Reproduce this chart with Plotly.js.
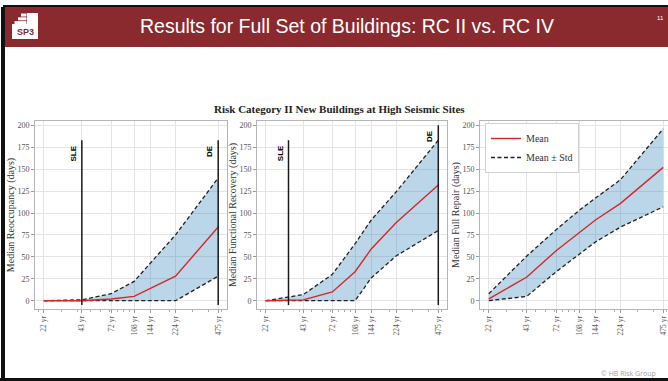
<!DOCTYPE html>
<html>
<head>
<meta charset="utf-8">
<script src="https://cdn.plot.ly/plotly-3.0.1.min.js"></script>
<style>
  html, body { margin: 0; padding: 0; background: #ffffff; }
  #chart { width: 668px; height: 381px; }
</style>
</head>
<body>
<div id="chart"></div>
<script>
// ---------------- data ----------------
const returnPeriods = [22, 43, 72, 108, 144, 224, 475];
const tickLabels = ["22 yr", "43 yr", "72 yr", "108 yr", "144 yr", "224 yr", "475 yr"];

const reoccMean  = [0, 0, 2, 5, 14, 28, 84];
const reoccUpper = [0, 1, 8, 22, 43, 75, 140];
const reoccLower = [0, 0, 0, 0, 0, 0, 28];

const funcMean  = [0, 1, 10, 33, 59, 89, 132];
const funcUpper = [0, 7, 30, 65, 92, 124, 183];
const funcLower = [0, 0, 0, 0, 26, 51, 80];

const repairMean  = [2, 27, 57, 78, 92, 111, 152];
const repairUpper = [8, 51, 81, 103, 117, 138, 196];
const repairLower = [0, 5, 33, 53, 67, 84, 107];

const yTicks = [0, 25, 50, 75, 100, 125, 150, 175, 200];

const panelTitles = ["Median Reoccupancy (days)", "Median Functional Recovery (days)", "Median Full Repair (days)"];
const sleX = [43, 33];
const sleTop = [183, 183];
const deX = [475, 475];
const deTop = [183, 200];
const markerBottom = -5;

const slideTitle = "Results for Full Set of Buildings: RC II vs. RC IV";
const chartTitle = "Risk Category II New Buildings at High Seismic Sites";
const legendMean = "Mean";
const legendStd = "Mean \u00b1 Std";
const slideNumber = "11";
const footer = "\u00a9 HB Risk Group";
const logoText = "SP3";

// ---------------- helpers ----------------
const W = 668, H = 381;
const px = x => x / W;
const py = y => 1 - y / H;

const SERIF = "'Liberation Serif', 'Times New Roman', serif";
const SANS = "'Liberation Sans', Arial, sans-serif";
const RED = "#d62728";
const FILL = "rgba(31,119,180,0.3)";

const panels = [
  {mean: reoccMean, up: reoccUpper, lo: reoccLower},
  {mean: funcMean, up: funcUpper, lo: funcLower},
  {mean: repairMean, up: repairUpper, lo: repairLower}
];

const traces = [];
panels.forEach((p, i) => {
  const xa = i === 0 ? "x" : "x" + (i + 1);
  const ya = i === 0 ? "y" : "y" + (i + 1);
  traces.push({x: returnPeriods, y: p.lo, xaxis: xa, yaxis: ya, mode: "lines",
    line: {width: 0, color: "rgba(0,0,0,0)"}, showlegend: false, hoverinfo: "skip"});
  traces.push({x: returnPeriods, y: p.up, xaxis: xa, yaxis: ya, mode: "lines",
    line: {width: 0, color: "rgba(0,0,0,0)"}, fill: "tonexty", fillcolor: FILL,
    showlegend: false, hoverinfo: "skip"});
  traces.push({x: returnPeriods, y: p.lo, xaxis: xa, yaxis: ya, mode: "lines",
    line: {width: 1.3, color: "#222", dash: "4px,2.5px"}, showlegend: false});
  traces.push({x: returnPeriods, y: p.up, xaxis: xa, yaxis: ya, mode: "lines",
    line: {width: 1.3, color: "#222", dash: "4px,2.5px"}, name: legendStd,
    showlegend: i === 2, legendrank: 2});
  traces.push({x: returnPeriods, y: p.mean, xaxis: xa, yaxis: ya, mode: "lines",
    line: {width: 1.4, color: RED}, name: legendMean, showlegend: i === 2, legendrank: 1});
});

const annotations = [];
for (let i = 0; i < 2; i++) {
  const xa = i === 0 ? "x" : "x" + (i + 1);
  const ya = i === 0 ? "y" : "y" + (i + 1);
  traces.push({x: [sleX[i], sleX[i]], y: [markerBottom, sleTop[i]], xaxis: xa, yaxis: ya,
    mode: "lines", line: {width: 1.5, color: "#1a1a1a"}, showlegend: false, hoverinfo: "skip"});
  traces.push({x: [deX[i], deX[i]], y: [markerBottom, deTop[i]], xaxis: xa, yaxis: ya,
    mode: "lines", line: {width: 1.5, color: "#1a1a1a"}, showlegend: false, hoverinfo: "skip"});
  annotations.push({xref: xa, yref: ya, x: Math.log10(sleX[i]), y: sleTop[i], text: "<b>SLE</b>",
    textangle: -90, xanchor: "right", yanchor: "top", xshift: -2, yshift: -3, showarrow: false,
    font: {family: SANS, size: 8, color: "#000"}});
  annotations.push({xref: xa, yref: ya, x: Math.log10(deX[i]), y: deTop[i], text: "<b>DE</b>",
    textangle: -90, xanchor: "right", yanchor: "top", xshift: -2, yshift: -3, showarrow: false,
    font: {family: SANS, size: 8, color: "#000"}});
}

const xDom = [[35, 227], [257, 447], [480, 668]];
const xRanges = [[1.275, 2.744], [1.275, 2.744], [1.275, 1.275 + 188 / 130.7]];
const yDom = [py(309), py(121)];

const layout = {
  width: W, height: H,
  margin: {l: 0, r: 0, t: 0, b: 0},
  paper_bgcolor: "#ffffff", plot_bgcolor: "#ffffff",
  showlegend: true,
  legend: {x: px(485), y: py(123), xanchor: "left", yanchor: "top", traceorder: "normal",
    bgcolor: "rgba(255,255,255,0.9)", bordercolor: "#d0d0d0", borderwidth: 1,
    font: {family: SERIF, size: 10, color: "#333"}, itemwidth: 30, tracegroupgap: 0},
  annotations: annotations,
  shapes: []
};

for (let i = 0; i < 3; i++) {
  const xk = i === 0 ? "xaxis" : "xaxis" + (i + 1);
  const yk = i === 0 ? "yaxis" : "yaxis" + (i + 1);
  const ya = i === 0 ? "y" : "y" + (i + 1);
  const xa = i === 0 ? "x" : "x" + (i + 1);
  layout[xk] = {
    type: "log", domain: [px(xDom[i][0]), px(xDom[i][1])], range: xRanges[i], anchor: ya,
    tickmode: "array", tickvals: returnPeriods, ticktext: tickLabels, tickangle: -90,
    tickfont: {family: SERIF, size: 7.5, color: "#555"},
    ticks: "outside", ticklen: 3, tickcolor: "#999", tickwidth: 1,
    showgrid: true, gridcolor: "#e4e4e4", gridwidth: 1,
    showline: true, mirror: true, linecolor: "#b5b5b5", linewidth: 1,
    zeroline: false, automargin: false,
    minor: {ticks: "outside", ticklen: 1.5, tickcolor: "#aaa", dtick: "D1", showgrid: false}
  };
  layout[yk] = {
    domain: yDom, range: [-9.45, 204.9], anchor: xa,
    tickmode: "array", tickvals: yTicks,
    tickfont: {family: SERIF, size: 8, color: "#555"},
    ticks: "outside", ticklen: 3, tickcolor: "#999",
    showgrid: true, gridcolor: "#e4e4e4", gridwidth: 1,
    showline: true, mirror: true, linecolor: "#b5b5b5", linewidth: 1,
    zeroline: false, automargin: false,
    title: {text: panelTitles[i], font: {family: SERIF, size: 10, color: "#333"}, standoff: 0}
  };
}

annotations.push({xref: "paper", yref: "paper", x: px(339), y: py(109), text: "<b>" + chartTitle + "</b>",
  showarrow: false, xanchor: "center", yanchor: "middle", font: {family: SERIF, size: 11, color: "#222"}});

const S = layout.shapes;
const rect = (x0, y0, x1, y1, color) => S.push({type: "rect", xref: "paper", yref: "paper",
  x0: px(x0), x1: px(x1), y0: py(y1), y1: py(y0), fillcolor: color, line: {width: 0}, layer: "above"});
rect(3, 5, 668, 7, "#111111");
rect(3, 7, 668, 47, "#8a2a2e");
rect(1, 7, 5, 381, "#111111");
rect(0, 378, 668, 381, "#111111");
rect(12, 24, 38, 39, "#ffffff");
rect(27, 13, 38, 24, "#ffffff");
rect(21, 13.5, 26.5, 16.5, "#ffffff");
rect(18, 17.3, 26.5, 20.3, "#ffffff");
rect(14.5, 21.1, 26.5, 24.1, "#ffffff");

annotations.push({xref: "paper", yref: "paper", x: px(25.5), y: py(32), text: "<b>" + logoText + "</b>",
  showarrow: false, xanchor: "center", yanchor: "middle", font: {family: SANS, size: 9, color: "#8a2a2e"}});
annotations.push({xref: "paper", yref: "paper", x: px(347), y: py(26), text: slideTitle,
  showarrow: false, xanchor: "center", yanchor: "middle", font: {family: SANS, size: 19.5, color: "#ffffff"}});
annotations.push({xref: "paper", yref: "paper", x: px(660), y: py(18), text: slideNumber,
  showarrow: false, xanchor: "center", yanchor: "middle", font: {family: SANS, size: 6, color: "#ffffff"}});
annotations.push({xref: "paper", yref: "paper", x: px(628), y: py(373), text: footer,
  showarrow: false, xanchor: "center", yanchor: "middle", font: {family: "'Open Sans', sans-serif", size: 7, color: "#a0a0a0"}});

Plotly.newPlot("chart", traces, layout, {staticPlot: true, displayModeBar: false});
</script>
</body>
</html>
